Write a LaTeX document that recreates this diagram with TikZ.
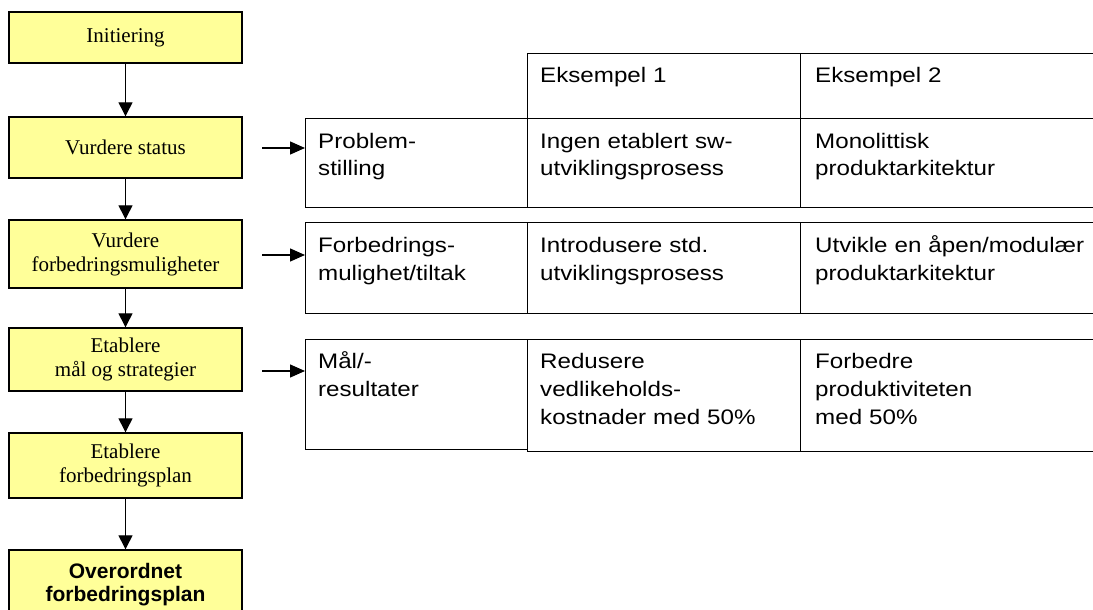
\documentclass[tikz,border=0pt]{standalone}
\usepackage{fontspec}
\setmainfont{Liberation Serif}
\newfontfamily\tabfont{Liberation Sans}[FakeStretch=1.15]
\newfontfamily\boldsansfont{Liberation Sans}
\usetikzlibrary{arrows.meta}
\definecolor{boxyellow}{HTML}{FFFF99}
\begin{document}
\begin{tikzpicture}[x=1pt,y=-1pt,
  lbox/.style={draw=black, line width=1.4pt, fill=boxyellow, minimum width=233pt, align=center, inner sep=0pt, font=\fontsize{21}{24}\selectfont},
  flow/.style={line width=1.3pt, -{Triangle[length=14pt,width=14pt]}},
  hflow/.style={line width=1.3pt, -{Triangle[length=15pt,width=13pt]}},
  cellbox/.style={draw=black, line width=1.4pt, anchor=north west, inner sep=0pt},
  celltext/.style={anchor=base west, inner sep=0pt, align=left, text width=285pt, font=\tabfont\fontsize{21}{28}\selectfont}]
\clip (0,0) rectangle (1093,610);
\fill[white] (0,0) rectangle (1093,610);

% left flow
\node[lbox, minimum height=51pt] (init) at (125.5,37.5) {Initiering};
\node[lbox, minimum height=61pt] (vs) at (125.5,147.5) {Vurdere status};
\node[lbox, minimum height=68pt] (vf) at (125.5,254) {Vurdere\\forbedringsmuligheter};
\node[lbox, minimum height=63pt] (em) at (125.5,359.5) {Etablere\\mål og strategier};
\node[lbox, minimum height=65pt] (ef) at (125.5,465.5) {Etablere\\forbedringsplan};
\node[lbox, minimum height=70pt, font=\boldsansfont\bfseries\fontsize{21}{23}\selectfont] (oo) at (125.5,585) {Overordnet\\forbedringsplan};

\draw[flow] (init) -- (vs);
\draw[flow] (vs) -- (vf);
\draw[flow] (vf) -- (em);
\draw[flow] (em) -- (ef);
\draw[flow] (ef) -- (oo);

% table cells
\node[cellbox, minimum width=273pt, minimum height=65pt] (h2) at (527,53) {};
\node[cellbox, minimum width=300pt, minimum height=65pt] (h3) at (800,53) {};

\node[cellbox, minimum width=222pt, minimum height=89pt] (c11) at (305,118) {};
\node[cellbox, minimum width=273pt, minimum height=89pt] (c12) at (527,118) {};
\node[cellbox, minimum width=300pt, minimum height=89pt] (c13) at (800,118) {};

\node[cellbox, minimum width=222pt, minimum height=91pt] (c21) at (305,222) {};
\node[cellbox, minimum width=273pt, minimum height=91pt] (c22) at (527,222) {};
\node[cellbox, minimum width=300pt, minimum height=91pt] (c23) at (800,222) {};

\node[cellbox, minimum width=222pt, minimum height=110pt] (c31) at (305,339) {};
\node[cellbox, minimum width=273pt, minimum height=112pt] (c32) at (527,339) {};
\node[cellbox, minimum width=300pt, minimum height=112pt] (c33) at (800,339) {};

% table texts
\node[celltext] (t_h2) at (540,83) {Eksempel 1};
\node[celltext] (t_h3) at (815,83) {Eksempel 2};

\node[celltext] (t11) at (318,148) {Problem-\\stilling};
\node[celltext] (t12) at (540,148) {Ingen etablert sw-\\utviklingsprosess};
\node[celltext] (t13) at (815,148) {Monolittisk\\produktarkitektur};

\node[celltext] (t21) at (318,252) {Forbedrings-\\mulighet/tiltak};
\node[celltext] (t22) at (540,252) {Introdusere std.\\utviklingsprosess};
\node[celltext] (t23) at (815,252) {Utvikle en åpen/modulær\\produktarkitektur};

\node[celltext] (t31) at (318,368) {Mål/-\\resultater};
\node[celltext] (t32) at (540,368) {Redusere\\vedlikeholds-\\kostnader med 50\%};
\node[celltext] (t33) at (815,368) {Forbedre\\produktiviteten\\med 50\%};

% horizontal arrows
\coordinate (a1) at (262,148);
\coordinate (a2) at (262,255);
\coordinate (a3) at (262,371);
\draw[hflow] (a1) -- (a1 -| c11.west);
\draw[hflow] (a2) -- (a2 -| c21.west);
\draw[hflow] (a3) -- (a3 -| c31.west);
\end{tikzpicture}
\end{document}
